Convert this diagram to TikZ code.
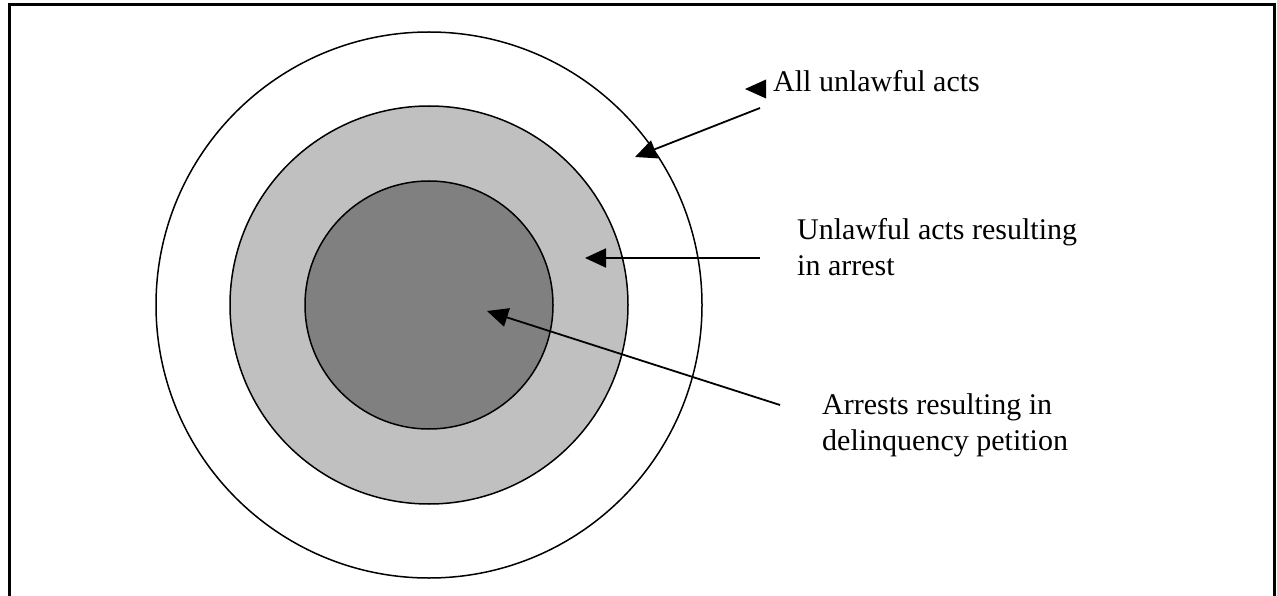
\documentclass[tikz,border=0pt]{standalone}
\usepackage{fontspec}
\setmainfont{Liberation Serif}
\usetikzlibrary{arrows.meta}
\definecolor{lightgray}{HTML}{C0C0C0}
\definecolor{darkgray}{HTML}{808080}
\tikzset{
  ring/.style={circle, draw=black, line width=1.5pt, inner sep=0pt},
  label text/.style={font=\fontsize{30}{36}\selectfont, inner sep=0pt, anchor=base west},
  pointer/.style={line width=1.8pt, -{Triangle[length=21pt,width=19pt]}},
}
\begin{document}
\begin{tikzpicture}[x=1pt,y=-1pt]
\useasboundingbox (0,0) rectangle (1277,596);
% frame
\draw[line width=3pt] (9,600) -- (9,5) -- (1274.5,5) -- (1274.5,600);
% circles
\node[ring, minimum size=546pt] (outer) at (429,305) {};
\node[ring, fill=lightgray, minimum size=398pt] (middle) at (429,305) {};
\node[ring, fill=darkgray, minimum size=248pt] (inner) at (429,305) {};
% labels
\node[label text] (l1) at (773,92) {All unlawful acts};
\node[label text] (l2) at (797,240) {\vtop{\hbox{Unlawful acts resulting}\hbox{in arrest}}};
\node[label text] (l3) at (822,414) {\vtop{\hbox{Arrests resulting in}\hbox{delinquency petition}}};
% arrow end points
\coordinate (s1) at (760,108);
\coordinate (t1) at (635,157);
\coordinate (s2) at (760,258);
\coordinate (t2) at (585,258);
\coordinate (s3) at (780,405);
\coordinate (t3) at (487,311);
\draw[pointer] (s1) -- (t1);
\draw[pointer] (s2) -- (t2);
\draw[pointer] (s3) -- (t3);
% stray arrowhead
\coordinate (h) at (745,89);
\fill (h) -- ++(21,-9.5) -- ++(0,19) -- cycle;
\end{tikzpicture}
\end{document}
